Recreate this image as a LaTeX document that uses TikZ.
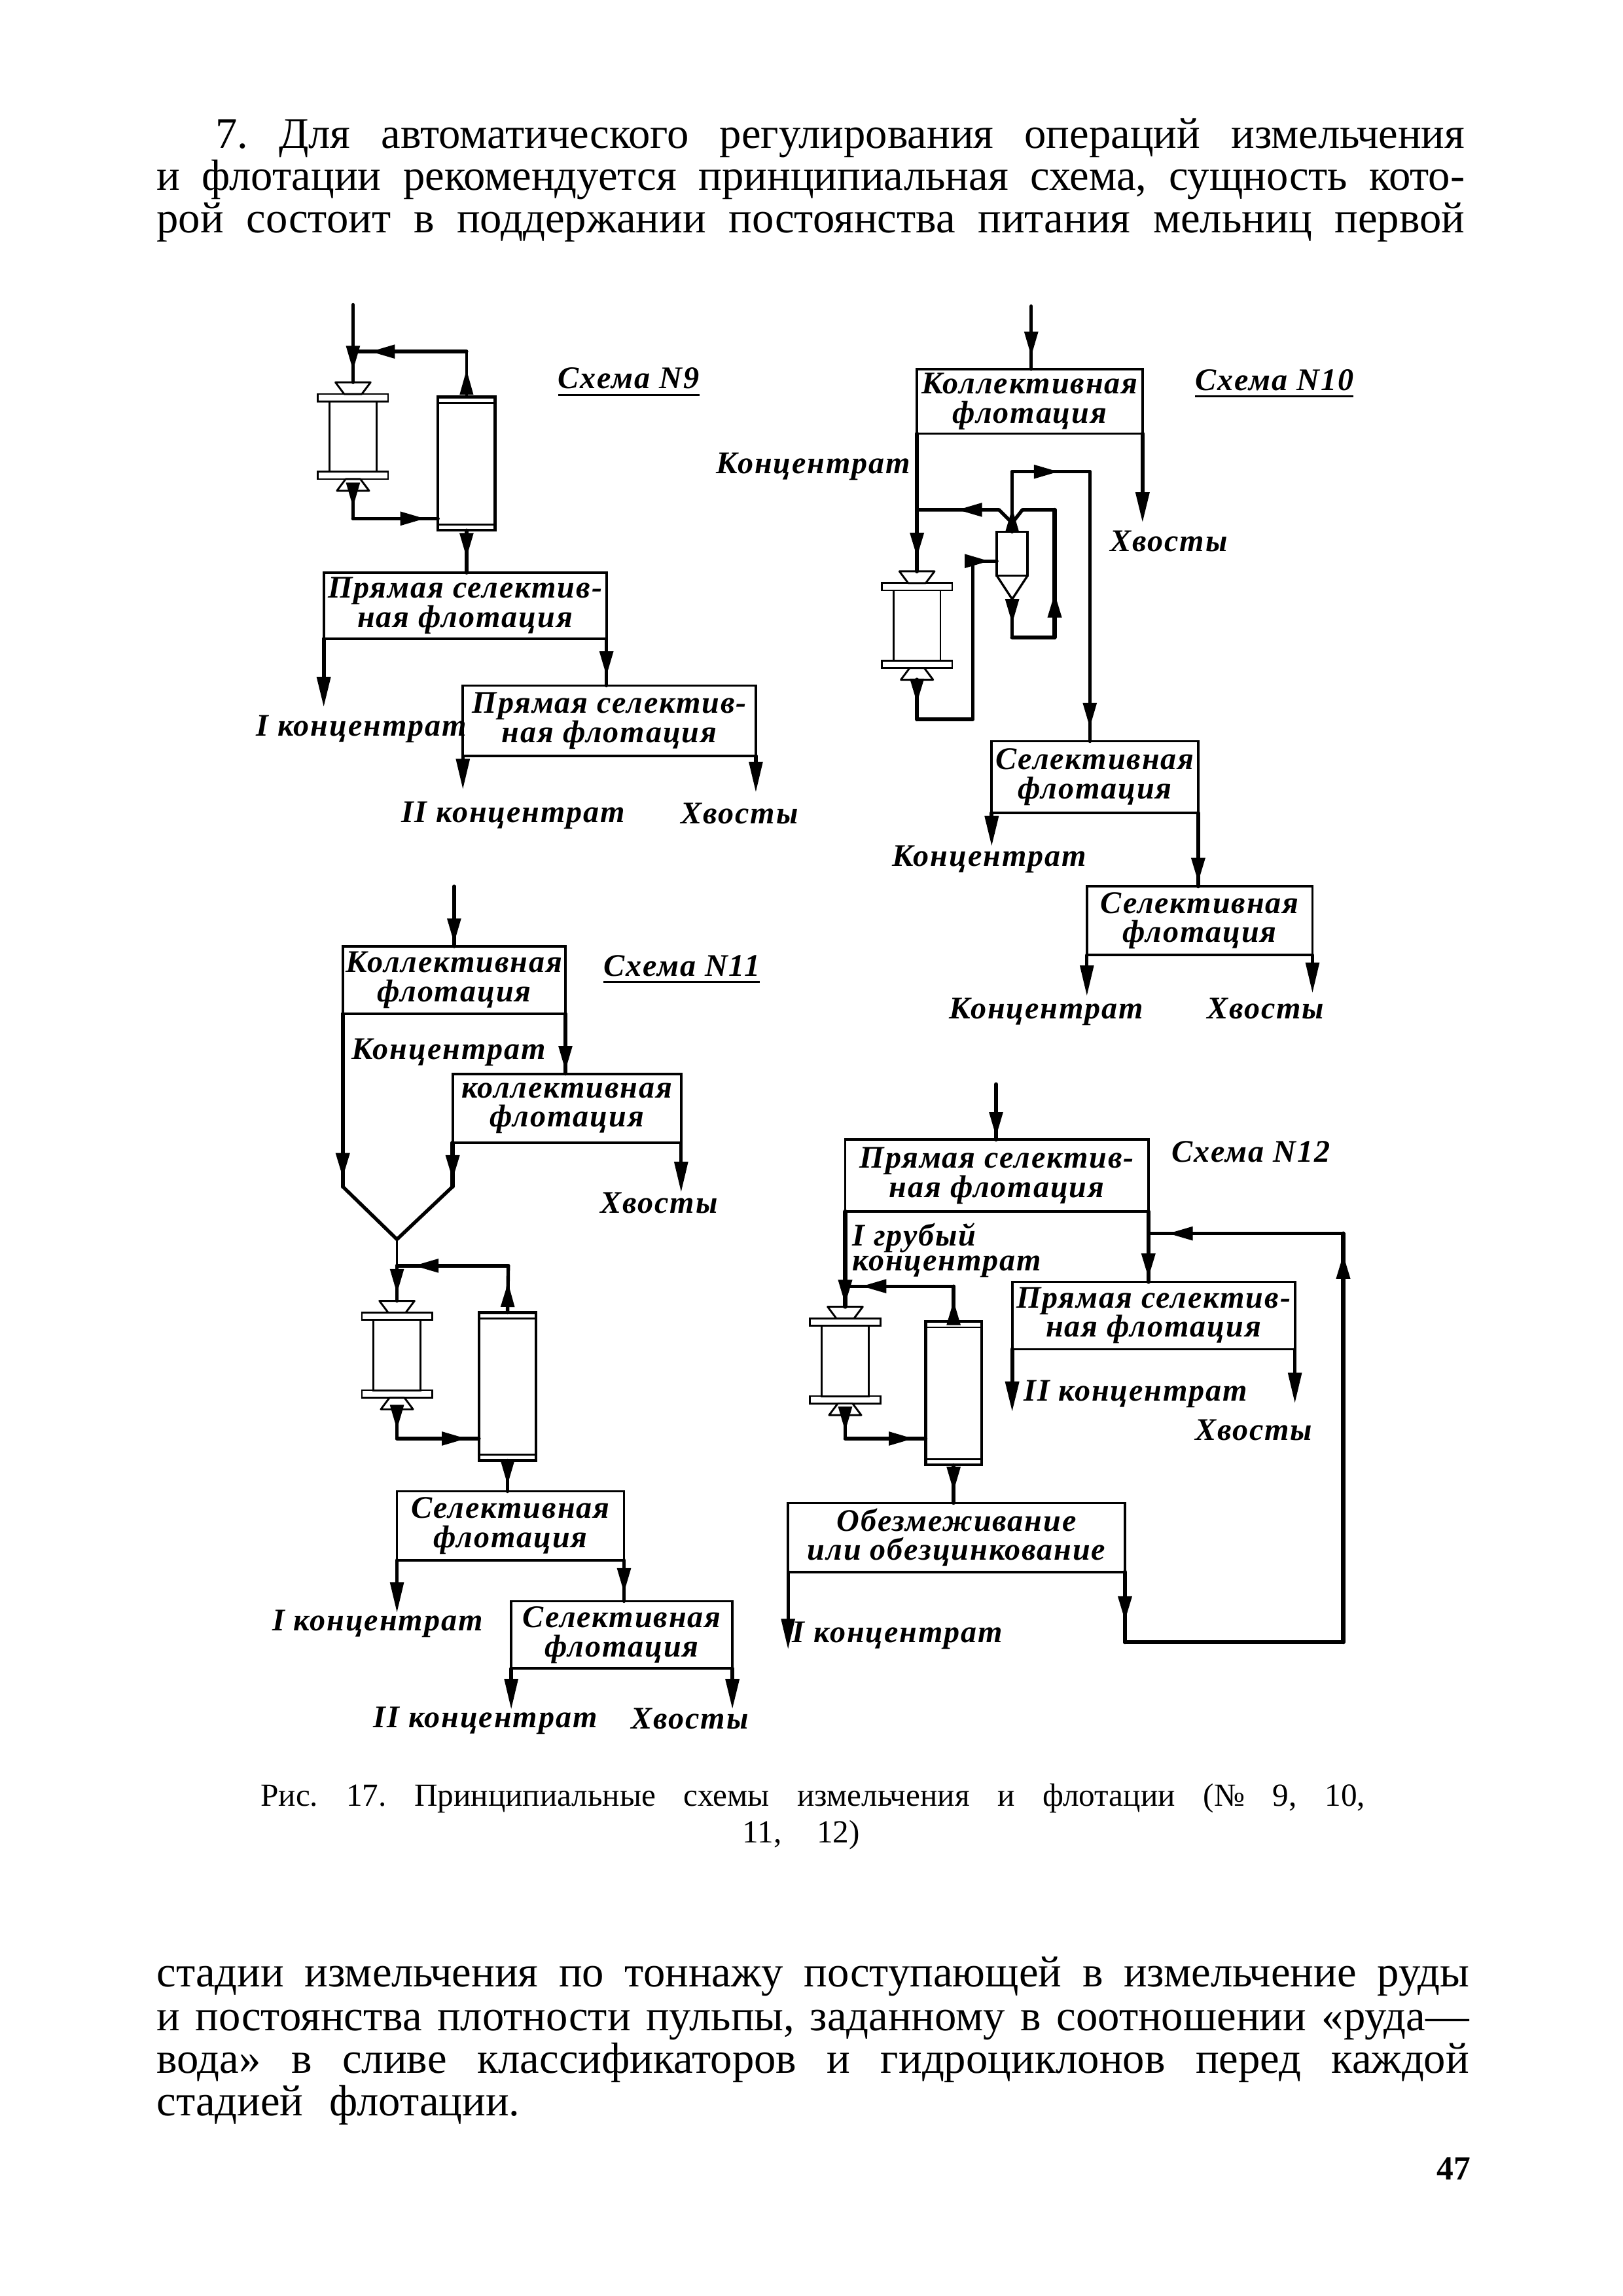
\documentclass[tikz,border=0pt]{standalone}
\usepackage{fontspec}
\usetikzlibrary{arrows.meta,decorations.markings,calc}
\setmainfont{Liberation Serif}
\newfontfamily\labfam[LetterSpace=4]{Liberation Serif}
\newcommand{\labfont}{\labfam\itshape\bfseries\fontsize{21.5}{20}\selectfont}
\tikzset{
  proc/.style={draw,line width=1.7pt,inner sep=0pt,outer sep=0pt,align=center,font=\labfont},
  flow/.style={line width=2.4pt,line cap=round,line join=round},
  thinflow/.style={line width=1.6pt,line cap=round,line join=round},
  endtip/.style={-{Triangle[length=21pt,width=9pt]}},
  midtip/.style={postaction={decorate},decoration={markings,mark=at position #1 with {\arrow{Triangle[length=17pt,width=9pt]}}}},
  lab/.style={inner sep=0pt,outer sep=0pt,anchor=mid west,yshift=-5pt,font=\labfont},
  bodyline/.style={inner sep=0pt,outer sep=0pt,anchor=base west,font=\fontsize{29.8}{30}\selectfont},
  capline/.style={inner sep=0pt,outer sep=0pt,anchor=base west,font=\fontsize{22}{24}\selectfont},
  flange/.style={draw,line width=1.2pt,inner sep=0pt,outer sep=0pt,minimum width=48pt,minimum height=5pt},
  milbody/.style={draw,line width=1.3pt,inner sep=0pt,outer sep=0pt,minimum width=32pt,minimum height=48pt},
  clas/.style={draw,line width=1.9pt,inner sep=0pt,outer sep=0pt},
  trap/.style={draw,line width=1.3pt,fill=white,line join=round},
  ruleline/.style={line width=1.5pt}
}
% name, x1,y1,x2,y2,text
\newcommand{\procnode}[6]{%
  \pgfmathsetmacro\pnw{#4-#2}\pgfmathsetmacro\pnh{#5-#3}%
  \node[proc,minimum width=\pnw pt,minimum height=\pnh pt] (#1) at ({(#2+#4)/2},{(#3+#5)/2}) {#6};}
% name, cx, y of funnel top
\newcommand{\millunit}[3]{%
  \coordinate (#1in) at (#2,#3);
  \node[flange] (#1tf) at (#2,#3+10.5) {};
  \node[milbody] (#1b) at (#2,#3+37) {};
  \node[flange] (#1bf) at (#2,#3+63.5) {};
  \coordinate (#1out) at (#2,#3+74);
  \draw[trap] (#2-12,#3) -- (#2+12,#3) -- (#2+6,#3+8) -- (#2-6,#3+8) -- cycle;
  \draw[trap] (#2-5,#3+66) -- (#2+5,#3+66) -- (#2+11,#3+74) -- (#2-11,#3+74) -- cycle;}
% name, x1,y1,x2,y2
\newcommand{\classunit}[5]{%
  \pgfmathsetmacro\pnw{#4-#2}\pgfmathsetmacro\pnh{#5-#3}%
  \node[clas,minimum width=\pnw pt,minimum height=\pnh pt] (#1) at ({(#2+#4)/2},{(#3+#5)/2}) {};
  \draw[line width=1.2pt] (#2,#3+4) -- (#4,#3+4) (#2,#5-4) -- (#4,#5-4);}
% name,x,y,width,text
\newcommand{\bodytext}[5]{\node[bodyline] (#1) at (#2,#3) {\makebox[#4pt][s]{#5}};}
\frenchspacing
\begin{document}
\begin{tikzpicture}[x=1pt,y=-1pt]
\useasboundingbox[fill=white] (0,0) rectangle (1108,1567.3);

% running text above
\bodytext{ta}{147}{101}{853}{7. Для автоматического регулирования операций измельчения}
\bodytext{tb}{107}{130}{893}{и флотации рекомендуется принципиальная схема, сущность кото-}
\bodytext{tc}{107}{159}{893}{рой состоит в поддержании постоянства питания мельниц первой}

%%%%%%%% Scheme 9
\procnode{na}{221}{391}{414}{436}{Прямая селектив-\\ная флотация}
\procnode{nb}{316}{468}{516}{516}{Прямая селектив-\\ная флотация}
\millunit{ma}{241}{261}
\classunit{ka}{299}{271}{338}{362}
\node[lab] (la9) at (381,258) {Схема N9};
\draw[ruleline] ($(la9.south west)+(0,4)$) -- ($(la9.south east)+(0,4)$);
\node[lab] (la1) at (175,495) {I концентрат};
\node[lab] (la2) at (274,554) {II концентрат};
\node[lab] (la3) at (465,555) {Хвосты};
\coordinate (ain) at (241,208);
\coordinate (ajn) at (241,240);
\coordinate (acr) at (318,240);
\coordinate (adn) at (241,354);
\coordinate (ax1) at (223,483);
\coordinate (ax2) at (317,539);
\coordinate (ax3) at (515,541);
\draw[flow,midtip=.85] (ain) -- (main);
\draw[thinflow,midtip=.6] (ka.north) -- (ka.north |- acr);
\draw[flow,midtip=.85] (ka.north |- acr) -- (ajn);
\draw[flow,midtip=.6] (maout) -- (adn);
\draw[flow,midtip=.85] (adn) -- (adn -| ka.west);
\draw[flow,midtip=.65] (ka.south) -- (ka.south |- na.north);
\draw[flow,endtip,line width=2.8pt] (na.south west) -- (na.south west |- ax1);
\draw[flow,midtip=.8] (na.south east) -- (na.south east |- nb.north);
\draw[flow,endtip] (nb.south west) -- (nb.south west |- ax2);
\draw[flow,endtip] (nb.south east) -- (nb.south east |- ax3);

%%%%%%%% Scheme 10
\procnode{nc}{626}{252}{780}{296}{Коллективная\\флотация}
\procnode{nd}{677}{506}{818}{555}{Селективная\\флотация}
\procnode{ne}{742}{605}{896}{652}{Селективная\\флотация}
\millunit{mb}{626}{390}
\node[clas,line width=1.5pt,minimum width=21pt,minimum height=30pt] (cy) at (691,378) {};
\coordinate (cyap) at (691,409);
\draw[line width=1.5pt] (cy.south west) -- (cyap) -- (cy.south east);
\node[lab] (lb9) at (816,259) {Схема N10};
\draw[ruleline] ($(lb9.south west)+(0,4)$) -- ($(lb9.south east)+(0,4)$);
\node[lab] (lb1) at (489,316) {Концентрат};
\node[lab] (lb2) at (758,369) {Хвосты};
\node[lab] (lb3) at (609,584) {Концентрат};
\node[lab] (lb4) at (648,688) {Концентрат};
\node[lab] (lb5) at (824,688) {Хвосты};
\coordinate (bin) at (704,209);
\coordinate (bx1) at (780,357);
\coordinate (bw) at (626,348);
\coordinate (bwk) at (682,348);
\coordinate (by) at (691,357);
\coordinate (byr) at (698,348);
\coordinate (bo1) at (691,322);
\coordinate (bo2) at (744,322);
\coordinate (bs1) at (691,435);
\coordinate (bs2) at (720,435);
\coordinate (bs3) at (720,348);
\coordinate (bm1) at (626,491);
\coordinate (bm2) at (664,491);
\coordinate (bm3) at (664,383);
\coordinate (bx2) at (678,578);
\coordinate (bx3) at (742,680);
\coordinate (bx4) at (895,678);
\draw[flow,midtip=.8] (bin) -- (bin |- nc.north);
\draw[flow,midtip=.9,line width=2.8pt] (nc.south west) -- (mbin);
\draw[flow,endtip,line width=2.8pt] (nc.south east) -- (bx1);
\draw[flow,midtip=.6] (by) -- (bwk) -- (bw);
\draw[flow,midtip=.4] (cy.north) -- (bo1);
\draw[flow,midtip=.6] (bo1) -- (bo2);
\draw[flow,midtip=.95] (bo2) -- (bo2 |- nd.north);
\draw[flow,midtip=.65] (cyap) -- (bs1);
\draw[flow,line width=2.8pt] (bs1) -- (bs2);
\draw[flow,midtip=.35,line width=2.8pt] (bs2) -- (bs3);
\draw[flow] (bs3) -- (byr) -- (by);
\draw[flow,midtip=.6,line width=2.8pt] (mbout) -- (bm1);
\draw[flow] (bm1) -- (bm2);
\draw[flow] (bm2) -- (bm3);
\draw[flow,midtip=.7] (bm3) -- (bm3 -| cy.west);
\draw[flow,endtip,line width=2.8pt] (nd.south west) -- (nd.south west |- bx2);
\draw[flow,midtip=.95,line width=2.8pt] (nd.south east) -- (nd.south east |- ne.north);
\draw[flow,endtip] (ne.south west) -- (ne.south west |- bx3);
\draw[flow,endtip] (ne.south east) -- (ne.south east |- bx4);

%%%%%%%% Scheme 11
\procnode{nf}{234}{646}{386}{692}{Коллективная\\флотация}
\procnode{ng}{309}{733}{465}{780}{коллективная\\флотация}
\procnode{nh}{271}{1018}{426}{1065}{Селективная\\флотация}
\procnode{ni}{349}{1093}{500}{1139}{Селективная\\флотация}
\millunit{mc}{271}{888}
\classunit{kc}{327}{896}{366}{997}
\node[lab] (lc9) at (412,659) {Схема N11};
\draw[ruleline] ($(lc9.south west)+(0,4)$) -- ($(lc9.south east)+(0,4)$);
\node[lab] (lc0) at (240,716) {Концентрат};
\node[lab] (lc1) at (410,821) {Хвосты};
\node[lab] (lc2) at (186,1106) {I концентрат};
\node[lab] (lc3) at (255,1172) {II концентрат};
\node[lab] (lc4) at (431,1173) {Хвосты};
\coordinate (cin) at (310,605);
\coordinate (cv1) at (234,810);
\coordinate (cv2) at (309,810);
\coordinate (cv0) at (271,846);
\coordinate (cjn) at (271,864);
\coordinate (ccr) at (347,864);
\coordinate (cdn) at (271,982);
\coordinate (cx1) at (463,814);
\coordinate (cx2) at (272,1101);
\coordinate (cx3) at (350,1167);
\coordinate (cx4) at (499,1167);
\draw[flow,midtip=.95] (cin) -- (cin |- nf.north);
\draw[flow,midtip=.95,line width=2.8pt] (nf.south west) -- (cv1);
\draw[flow,midtip=.95] (nf.south east) -- (nf.south east |- ng.north);
\draw[flow,midtip=.85,line width=2.8pt] (ng.south west) -- (cv2);
\draw[flow,endtip] (ng.south east) -- (ng.south east |- cx1);
\draw[flow] (cv1) -- (cv0) -- (cv2);
\draw[thinflow] (cv0) -- (cjn);
\draw[flow,midtip=.8] (cjn) -- (mcin);
\draw[flow,midtip=.65] (kc.north) -- (ccr);
\draw[flow,midtip=.85] (ccr) -- (cjn);
\draw[flow,midtip=.7] (mcout) -- (cdn);
\draw[flow,midtip=.85] (cdn) -- (cdn -| kc.west);
\draw[flow,midtip=.8] (kc.south) -- (kc.south |- nh.north);
\draw[flow,endtip] (nh.south west) -- (nh.south west |- cx2);
\draw[flow,midtip=.8] (nh.south east) -- (nh.south east |- ni.north);
\draw[flow,endtip] (ni.south west) -- (ni.south west |- cx3);
\draw[flow,endtip,line width=2.8pt] (ni.south east) -- (ni.south east |- cx4);

%%%%%%%% Scheme 12
\procnode{nj}{577}{778}{784}{827}{Прямая селектив-\\ная флотация}
\procnode{nk}{691}{875}{884}{921}{Прямая селектив-\\ная флотация}
\procnode{nl}{538}{1026}{768}{1073}{Обезмеживание\\или обезцинкование}
\millunit{md}{577}{892}
\classunit{kd}{632}{902}{670}{1000}
\node[lab] (ld9) at (800,786) {Схема N12};
\node[lab,align=left] (ld1) at (582,860) {I грубый\\[-3pt] концентрат};
\node[lab] (ld2) at (699,949) {II концентрат};
\node[lab] (ld3) at (816,976) {Хвосты};
\node[lab] (ld4) at (541,1114) {I концентрат};
\coordinate (din) at (680,740);
\coordinate (djn) at (577,878);
\coordinate (dcr) at (651,878);
\coordinate (ddn) at (577,982);
\coordinate (dfb) at (784,842);
\coordinate (dx1) at (691,964);
\coordinate (dx2) at (884,958);
\coordinate (dx3) at (540,1126);
\coordinate (dr1) at (768,1121);
\coordinate (dr2) at (917,1121);
\coordinate (dr3) at (917,842);
\draw[flow,midtip=.95] (din) -- (din |- nj.north);
\draw[flow,line width=2.8pt] (nj.south west) -- (djn);
\draw[flow,midtip=.9,line width=2.8pt] (djn) -- (mdin);
\draw[flow,midtip=.95,line width=2.8pt] (nj.south east) -- (nj.south east |- nk.north);
\draw[flow,midtip=.6] (kd.north) -- (dcr);
\draw[flow,midtip=.85] (dcr) -- (djn);
\draw[flow,midtip=.7] (mdout) -- (ddn);
\draw[flow,midtip=.85] (ddn) -- (ddn -| kd.west);
\draw[flow,midtip=.7] (kd.south) -- (kd.south |- nl.north);
\draw[flow,endtip,line width=2.8pt] (nk.south west) -- (nk.south west |- dx1);
\draw[flow,endtip] (nk.south east) -- (nk.south east |- dx2);
\draw[flow,endtip] (nl.south west) -- (nl.south west |- dx3);
\draw[flow,midtip=.7,line width=2.8pt] (nl.south east) -- (dr1);
\draw[flow] (dr1) -- (dr2);
\draw[flow,midtip=.95,line width=2.8pt] (dr2) -- (dr3);
\draw[flow,midtip=.9] (dr3) -- (dfb);

% caption
\node[capline] (capa) at (178,1233) {\makebox[754pt][s]{Рис. 17. Принципиальные схемы измельчения и флотации (№ 9, 10,}};
\node[capline] (capb) at (507,1258) {\makebox[80pt][s]{11, 12)}};

% running text below
\bodytext{td}{107}{1356}{896}{стадии измельчения по тоннажу поступающей в измельчение руды}
\bodytext{te}{107}{1386}{896}{и постоянства плотности пульпы, заданному в соотношении «руда—}
\bodytext{tf}{107}{1415}{896}{вода» в сливе классификаторов и гидроциклонов перед каждой}
\bodytext{tg}{107}{1444}{248}{стадией флотации.}
\node[inner sep=0pt,anchor=base east,font=\bfseries\fontsize{23}{24}\selectfont] (pg) at (1004,1488) {47};
\end{tikzpicture}
\end{document}
